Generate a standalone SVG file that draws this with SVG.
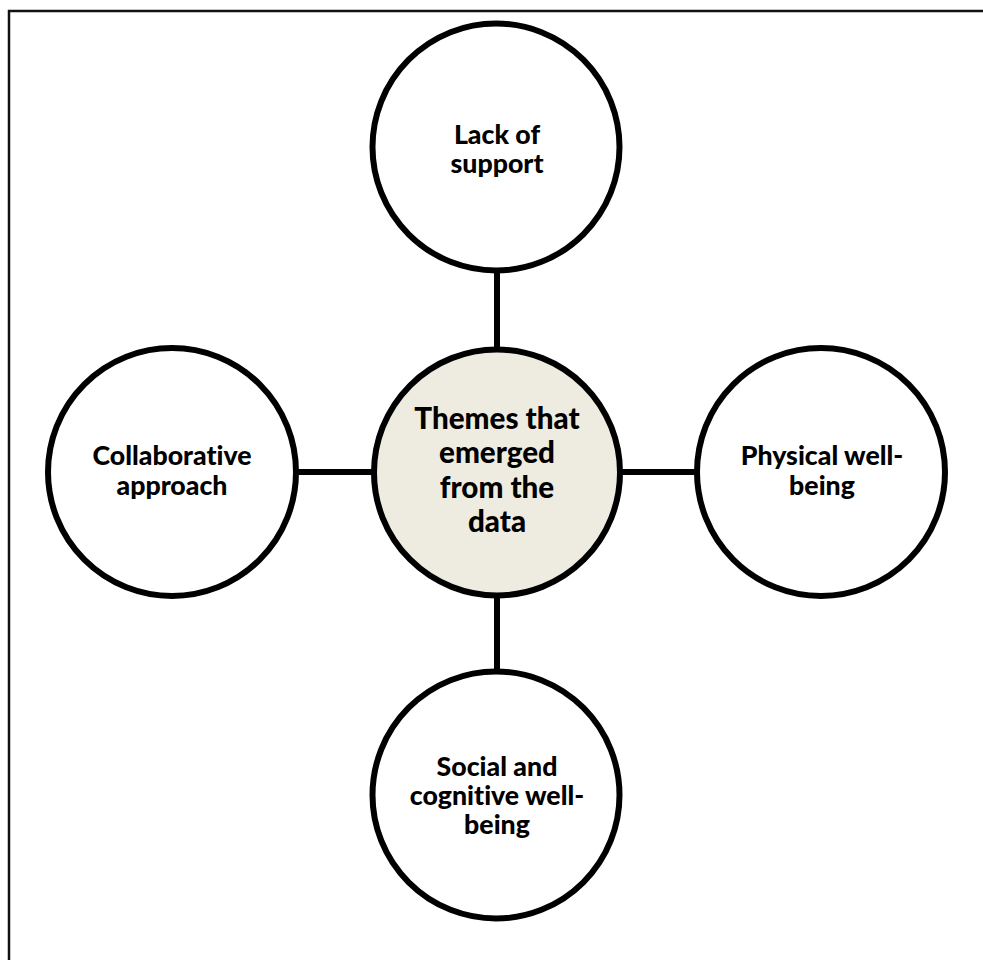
<svg xmlns="http://www.w3.org/2000/svg" width="983" height="960" viewBox="0 0 983 960">
<style>
.node{fill:#ffffff;stroke:#000000;stroke-width:6}
.hub{fill:#EEECE1;stroke:#000000;stroke-width:6}
.conn{stroke:#000000;stroke-width:6;fill:none}
.lbl{font-family:Lato,"Open Sans","Liberation Sans",sans-serif;font-weight:900;font-size:26.7px;fill:#000000;text-anchor:middle;font-variant-ligatures:none}
.big{font-size:29.6px}
</style>
<rect width="983" height="960" fill="#ffffff"/>
<path d="M9 960 V11 H983" fill="none" stroke="#111111" stroke-width="2.5"/>
<g id="connectors">
<line class="conn" x1="497" y1="272" x2="497" y2="348"/>
<line class="conn" x1="497" y1="597" x2="497" y2="671"/>
<line class="conn" x1="298" y1="472" x2="372" y2="472"/>
<line class="conn" x1="622" y1="472" x2="697" y2="472"/>
</g>
<g id="node-top">
<circle class="node" cx="496" cy="147" r="123.5"/>
<text class="lbl" x="497" y="144">Lack of</text>
<text class="lbl" x="497" y="173">support</text>
</g>
<g id="node-left">
<circle class="node" cx="172" cy="472" r="124"/>
<text class="lbl" x="172" y="465">Collaborative</text>
<text class="lbl" x="172" y="495">approach</text>
</g>
<g id="node-right">
<circle class="node" cx="821" cy="472" r="124"/>
<text class="lbl" x="822" y="465">Physical well-</text>
<text class="lbl" x="822" y="495">being</text>
</g>
<g id="node-bottom">
<circle class="node" cx="496" cy="795" r="123.5"/>
<text class="lbl" x="497" y="776">Social and</text>
<text class="lbl" x="497" y="805">cognitive well-</text>
<text class="lbl" x="497" y="834">being</text>
</g>
<g id="node-center">
<circle class="hub" cx="497" cy="472.5" r="123"/>
<text class="lbl big" x="497" y="429">Themes that</text>
<text class="lbl big" x="497" y="463">emerged</text>
<text class="lbl big" x="497" y="498">from the</text>
<text class="lbl big" x="497" y="532">data</text>
</g>
</svg>
